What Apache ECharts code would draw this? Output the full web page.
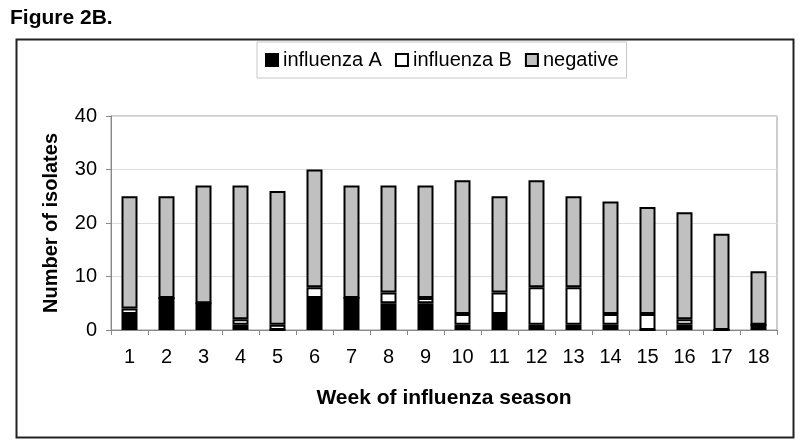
<!DOCTYPE html>
<html>
<head>
<meta charset="utf-8">
<script src="https://cdn.jsdelivr.net/npm/echarts@6/dist/echarts.min.js"></script>
<style>
html,body{margin:0;padding:0;background:#fff;}
#chart{width:800px;height:444px;}
</style>
</head>
<body>
<div id="chart"></div>
<script>
const weeks = ['1','2','3','4','5','6','7','8','9','10','11','12','13','14','15','16','17','18'];
const influenzaA = [3,6,5,1,0,6,6,5,5,1,3,1,1,1,0,1,0,1];
const influenzaB = [1,0,0,1,1,2,0,2,1,2,4,7,7,2,3,1,0,0];
const negative  = [21,19,22,25,25,22,21,20,21,25,18,20,17,21,20,20,18,10];
const yTicks = {min:0, max:40, interval:10};

const FONT = '"Liberation Sans", Arial, sans-serif';
const chart = echarts.init(document.getElementById('chart'), null, {renderer:'canvas'});

function barSeries(name, data, color){
  return {
    name: name, type: 'bar', stack: 'total', data: data,
    barWidth: 16,
    itemStyle: {color: color, borderColor: '#000', borderWidth: 2},
    emphasis: {disabled: true}
  };
}

chart.setOption({
  animation: false,
  backgroundColor: '#fff',
  title: {
    text: 'Figure 2B.', left: 5, top: 3,
    textStyle: {fontFamily: FONT, fontSize: 21, fontWeight: 'bold', color: '#000'}
  },
  graphic: [{
    type: 'rect', left: 14, top: 37, silent: true,
    shape: {width: 777, height: 398},
    style: {fill: 'none', stroke: '#222', lineWidth: 2}
  }],
  legend: {
    left: 257, top: 42,
    padding: [8, 8, 8, 8],
    borderColor: '#c8c8c8', borderWidth: 1,
    itemWidth: 12, itemHeight: 12, itemGap: 13,
    icon: 'rect',
    textStyle: {fontFamily: FONT, fontSize: 20, color: '#000'},
    data: ['influenza A', 'influenza B', 'negative']
  },
  grid: {
    left: 111, top: 116, right: 23, bottom: 114,
    show: true, borderColor: '#999', borderWidth: 1
  },
  xAxis: {
    type: 'category', data: weeks,
    name: 'Week of influenza season', nameLocation: 'middle', nameGap: 58,
    nameTextStyle: {fontFamily: FONT, fontSize: 21, fontWeight: 'bold', color: '#000'},
    axisLine: {lineStyle: {color: '#888', width: 1}},
    axisTick: {show: true, alignWithLabel: false, length: 5, lineStyle: {color: '#888'}},
    axisLabel: {fontFamily: FONT, fontSize: 20, color: '#000', margin: 17}
  },
  yAxis: {
    type: 'value', min: yTicks.min, max: yTicks.max, interval: yTicks.interval,
    name: 'Number of isolates', nameLocation: 'middle', nameGap: 50,
    nameTextStyle: {fontFamily: FONT, fontSize: 20, fontWeight: 'bold', color: '#000'},
    axisLine: {show: true, lineStyle: {color: '#888', width: 1}},
    axisTick: {show: true, length: 5, lineStyle: {color: '#888'}},
    axisLabel: {fontFamily: FONT, fontSize: 20, color: '#000', margin: 14},
    splitLine: {show: true, lineStyle: {color: '#dcdcdc', width: 1}}
  },
  series: [
    barSeries('influenza A', influenzaA, '#000000'),
    barSeries('influenza B', influenzaB, '#ffffff'),
    barSeries('negative', negative, '#c0c0c0')
  ]
});
</script>
</body>
</html>
